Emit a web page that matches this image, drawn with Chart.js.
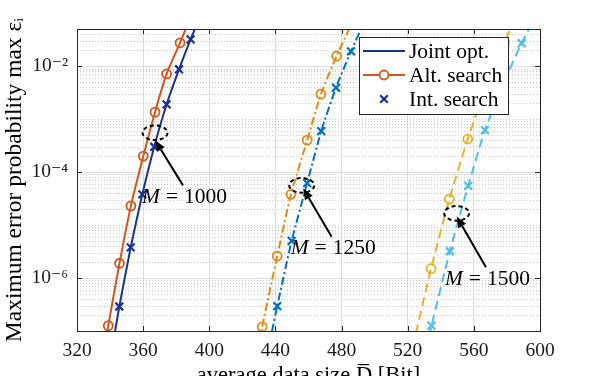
<!DOCTYPE html>
<html>
<head>
<meta charset="utf-8">
<script src="https://cdn.jsdelivr.net/npm/chart.js@4"></script>
<style>
  html, body { margin: 0; padding: 0; background: #fff; overflow: hidden; }
  #wrap { width: 598px; height: 392px; }
</style>
</head>
<body>
<div id="wrap"><canvas id="chart"></canvas></div>
<script>
// ---- data ----
const xTicks = [320, 360, 400, 440, 480, 520, 560, 600];
const yTicks = [1e-6, 1e-4, 1e-2];

// M = 1000
const m1000AltX = [332, 338.9, 345.7, 352.6, 360.1, 367.2, 374.2, 382.3, 389];
const m1000AltY = [7.1e-9, 1.26e-7, 1.9e-6, 2.3e-5, 2.0e-4, 1.35e-3, 7.1e-3, 2.75e-2, 8.9e-2];
const m1000JointX = [339, 345.6, 352.5, 359.5, 366.7, 374.2, 381.7, 388.7, 395.5];
const m1000JointY = [1.8e-8, 2.9e-7, 3.8e-6, 3.8e-5, 3.0e-4, 1.9e-3, 8.7e-3, 3.2e-2, 1.0e-1];
const m1000IntX = [345.6, 352.5, 359.5, 366.7, 374.2, 381.7, 388.7];
const m1000IntY = [2.9e-7, 3.8e-6, 3.8e-5, 3.0e-4, 1.9e-3, 8.7e-3, 3.2e-2];

// M = 1250
const m1250AltX = [423, 432.0, 441.1, 449.4, 459.2, 467.5, 477.0, 486.0];
const m1250AltY = [4.0e-9, 1.2e-7, 2.6e-6, 3.8e-5, 4.0e-4, 2.95e-3, 1.55e-2, 6.2e-2];
const m1250JointX = [432, 441.1, 449.8, 459.2, 467.7, 476.6, 485.7, 494.7];
const m1250JointY = [1.26e-8, 2.95e-7, 5.0e-6, 6.2e-5, 5.9e-4, 3.9e-3, 1.9e-2, 7.9e-2];
const m1250IntX = [441.1, 449.8, 459.2, 467.7, 476.6, 485.7];
const m1250IntY = [2.95e-7, 5.0e-6, 6.2e-5, 5.9e-4, 3.9e-3, 1.9e-2];

// M = 1500
const m1500AltX = [523, 534.1, 545.2, 556.3, 567.4, 578.5, 589.6];
const m1500AltY = [5.0e-8, 1.5e-6, 3.1e-5, 4.2e-4, 4.0e-3, 2.8e-2, 1.6e-1];
const m1500JointX = [523.3, 534.4, 545.5, 556.6, 566.7, 577.8, 588.9, 600];
const m1500JointY = [4.0e-9, 1.26e-7, 3.2e-6, 5.5e-5, 6.2e-4, 4.7e-3, 2.7e-2, 1.26e-1];
const m1500IntX = [534.4, 545.5, 556.6, 566.7, 577.8, 588.9];
const m1500IntY = [1.26e-7, 3.2e-6, 5.5e-5, 6.2e-4, 4.7e-3, 2.7e-2];

// annotations (data coordinates)
const noteLabels = ['1000', '1250', '1500'];
const noteEllipse = [[367.2, 5.5e-4], [455.9, 5.6e-5], [549.6, 1.66e-5]];
const noteTail = [[384.1, 5.6e-5], [474.0, 6.0e-6], [567.3, 1.6e-6]];
const noteHead = [[367.2, 4.0e-4], [456.8, 4.9e-5], [549.6, 1.45e-5]];

const FONT = '"Liberation Serif", "DejaVu Serif", serif';
const AXIS = '#262626';

const c1000 = { joint: '#1c3293', alt: '#d95319' };
const c1250 = { joint: '#0072bd', alt: '#e8890c' };
const c1500 = { joint: '#4dbeee', alt: '#edb120' };

const DASHDOT = [8, 3, 2, 3];
const DASHED = [9, 5];

function pts(xs, ys) {
  return xs.map((x, i) => ({ x: x, y: ys[i] }));
}

function jointSet(xs, ys, color, dash) {
  return {
    label: 'Joint opt.', data: pts(xs, ys),
    borderColor: color, borderWidth: 2, borderDash: dash,
    pointRadius: 0, tension: 0.2, fill: false
  };
}
function altSet(xs, ys, color, dash) {
  return {
    label: 'Alt. search', data: pts(xs, ys),
    borderColor: color, borderWidth: 2, borderDash: dash,
    pointStyle: 'circle', pointRadius: 4.5, pointBorderWidth: 1.8,
    pointBorderColor: color, pointBackgroundColor: 'rgba(0,0,0,0)',
    tension: 0.2, fill: false
  };
}
function intSet(xs, ys, color) {
  return {
    label: 'Int. search', data: pts(xs, ys),
    showLine: false, borderColor: color,
    pointStyle: 'crossRot', pointRadius: 5.5, pointBorderWidth: 2.2,
    pointBorderColor: color, pointBackgroundColor: color
  };
}

const datasets = [
  jointSet(m1000JointX, m1000JointY, c1000.joint, []),
  altSet(m1000AltX, m1000AltY, c1000.alt, []),
  intSet(m1000IntX, m1000IntY, c1000.joint),
  jointSet(m1250JointX, m1250JointY, c1250.joint, DASHDOT),
  altSet(m1250AltX, m1250AltY, c1250.alt, DASHDOT),
  intSet(m1250IntX, m1250IntY, c1250.joint),
  jointSet(m1500JointX, m1500JointY, c1500.joint, DASHED),
  altSet(m1500AltX, m1500AltY, c1500.alt, DASHED),
  intSet(m1500IntX, m1500IntY, c1500.joint)
];

const SUP = { '-': '\u207B', '0': '\u2070', '1': '\u00B9', '2': '\u00B2', '3': '\u00B3', '4': '\u2074',
  '5': '\u2075', '6': '\u2076', '7': '\u2077', '8': '\u2078', '9': '\u2079' };
function powLabel(v) {
  const e = Math.round(Math.log10(v));
  return '10' + String(e).split('').map(ch => SUP[ch]).join('');
}

// dotted minor grid on the log axis
const minorGrid = {
  id: 'minorGrid',
  beforeDatasetsDraw(chart) {
    const { ctx, chartArea: a, scales: { y } } = chart;
    ctx.save();
    ctx.strokeStyle = '#c9c9c9';
    ctx.lineWidth = 1;
    ctx.setLineDash([1, 2]);
    for (let k = -8; k <= -1; k++) {
      for (let m = 1; m <= 9; m++) {
        if (m === 1 && yTicks.some(t => Math.abs(Math.log10(t) - k) < 1e-9)) continue;
        const v = m * Math.pow(10, k);
        if (v < y.min || v > y.max) continue;
        const py = Math.round(y.getPixelForValue(v)) + 0.5;
        ctx.beginPath();
        ctx.moveTo(a.left, py);
        ctx.lineTo(a.right, py);
        ctx.stroke();
      }
    }
    ctx.restore();
  }
};

function arrowTo(ctx, x0, y0, x1, y1) {
  const ang = Math.atan2(y1 - y0, x1 - x0);
  const len = 11, half = 4.5;
  const bx = x1 - len * Math.cos(ang), by = y1 - len * Math.sin(ang);
  ctx.beginPath();
  ctx.moveTo(x0, y0);
  ctx.lineTo(bx, by);
  ctx.stroke();
  ctx.beginPath();
  ctx.moveTo(x1, y1);
  ctx.lineTo(bx + half * Math.sin(ang), by - half * Math.cos(ang));
  ctx.lineTo(bx - half * Math.sin(ang), by + half * Math.cos(ang));
  ctx.closePath();
  ctx.fill();
}

// ellipses, arrows and M labels
const notes = {
  id: 'notes',
  afterDatasetsDraw(chart) {
    const { ctx, scales: { x, y } } = chart;
    ctx.save();
    ctx.strokeStyle = '#000';
    ctx.fillStyle = '#000';
    noteLabels.forEach((lab, i) => {
      const ex = x.getPixelForValue(noteEllipse[i][0]);
      const ey = y.getPixelForValue(noteEllipse[i][1]);
      ctx.lineWidth = 2;
      ctx.setLineDash([4, 3]);
      ctx.beginPath();
      ctx.ellipse(ex, ey, 12.5, 7.3, 0, 0, Math.PI * 2);
      ctx.stroke();
      ctx.setLineDash([]);

      const tx = x.getPixelForValue(noteTail[i][0]);
      const ty = y.getPixelForValue(noteTail[i][1]);
      const hx = x.getPixelForValue(noteHead[i][0]);
      const hy = y.getPixelForValue(noteHead[i][1]);
      ctx.lineWidth = 2;
      arrowTo(ctx, tx, ty, hx, hy);

      // label: M = value
      const lx = tx - 41, ly = ty + 12;
      ctx.textBaseline = 'middle';
      ctx.textAlign = 'left';
      ctx.font = 'italic 21.5px ' + FONT;
      ctx.fillText('M', lx, ly);
      let cx = lx + ctx.measureText('M').width + 6;
      ctx.font = '21.5px ' + FONT;
      ctx.fillText('=', cx, ly);
      cx += ctx.measureText('=').width + 6;
      ctx.fillText(lab, cx, ly);
    });
    ctx.restore();
  }
};

// legend box in the upper right of the axes
const legendBox = {
  id: 'legendBox',
  afterDatasetsDraw(chart) {
    const { ctx, chartArea: a } = chart;
    const bx = a.right - 181, by = a.top + 8, bw = 149, bh = 77;
    ctx.save();
    ctx.fillStyle = '#fff';
    ctx.fillRect(bx, by, bw, bh);
    ctx.strokeStyle = AXIS;
    ctx.lineWidth = 1;
    ctx.strokeRect(bx + 0.5, by + 0.5, bw, bh);
    const rows = [
      { text: 'Joint opt.', color: c1000.joint, line: true, mark: null },
      { text: 'Alt. search', color: c1000.alt, line: true, mark: 'circle' },
      { text: 'Int. search', color: c1000.joint, line: false, mark: 'cross' }
    ];
    rows.forEach((r, i) => {
      const ry = by + 14 + i * 24;
      const x0 = bx + 4, x1 = bx + 46, xm = (x0 + x1) / 2;
      ctx.strokeStyle = r.color;
      ctx.lineWidth = 2;
      if (r.line) {
        ctx.beginPath();
        ctx.moveTo(x0, ry);
        ctx.lineTo(x1, ry);
        ctx.stroke();
      }
      if (r.mark === 'circle') {
        ctx.fillStyle = '#fff';
        ctx.lineWidth = 1.8;
        ctx.beginPath();
        ctx.arc(xm, ry, 4.5, 0, Math.PI * 2);
        ctx.fill();
        ctx.stroke();
      } else if (r.mark === 'cross') {
        ctx.lineWidth = 2.2;
        const d = 3.8;
        ctx.beginPath();
        ctx.moveTo(xm - d, ry - d); ctx.lineTo(xm + d, ry + d);
        ctx.moveTo(xm - d, ry + d); ctx.lineTo(xm + d, ry - d);
        ctx.stroke();
      }
      ctx.fillStyle = '#000';
      ctx.font = '21.5px ' + FONT;
      ctx.textBaseline = 'middle';
      ctx.textAlign = 'left';
      ctx.fillText(r.text, x1 + 4, ry + 1);
    });
    ctx.restore();
  }
};

// axes box with inward ticks
const axesBox = {
  id: 'axesBox',
  afterDraw(chart) {
    const { ctx, chartArea: a, scales: { x, y } } = chart;
    ctx.save();
    ctx.strokeStyle = AXIS;
    ctx.lineWidth = 1;
    ctx.strokeRect(Math.round(a.left) + 0.5, Math.round(a.top) + 0.5,
      Math.round(a.right - a.left), Math.round(a.bottom - a.top));
    ctx.beginPath();
    xTicks.forEach(t => {
      const px = Math.round(x.getPixelForValue(t)) + 0.5;
      ctx.moveTo(px, a.bottom); ctx.lineTo(px, a.bottom - 5);
      ctx.moveTo(px, a.top); ctx.lineTo(px, a.top + 5);
    });
    yTicks.forEach(t => {
      const py = Math.round(y.getPixelForValue(t)) + 0.5;
      ctx.moveTo(a.left, py); ctx.lineTo(a.left + 5, py);
      ctx.moveTo(a.right, py); ctx.lineTo(a.right - 5, py);
    });
    ctx.stroke();
    ctx.restore();
  }
};

new Chart(document.getElementById('chart'), {
  type: 'line',
  data: { datasets: datasets },
  options: {
    responsive: true,
    maintainAspectRatio: false,
    animation: false,
    layout: { padding: { left: 0, top: 29, right: 58, bottom: 0 } },
    plugins: {
      legend: { display: false },
      tooltip: { enabled: false }
    },
    scales: {
      x: {
        type: 'linear',
        min: 320, max: 600,
        afterFit: s => { s.height = 61; },
        afterBuildTicks: s => { s.ticks = xTicks.map(v => ({ value: v })); },
        grid: { color: '#dedede', lineWidth: 1, drawTicks: false },
        border: { display: false },
        ticks: {
          padding: 8, color: '#1a1a1a', maxRotation: 0,
          font: { family: FONT, size: 19.5 }
        },
        title: {
          display: true,
          text: 'average data size D\u0305 [Bit]',
          color: '#000',
          font: { family: FONT, size: 22.5 },
          padding: { top: 0, bottom: 2 }
        }
      },
      y: {
        type: 'logarithmic',
        min: 1e-7, max: 0.0501,
        afterFit: s => { s.width = 77; },
        afterBuildTicks: s => { s.ticks = yTicks.map(v => ({ value: v })); },
        grid: { color: '#dedede', lineWidth: 1, drawTicks: false },
        border: { display: false },
        ticks: {
          padding: 9, color: '#1a1a1a', autoSkip: false,
          font: { family: FONT, size: 19.5 },
          callback: v => powLabel(v)
        },
        title: {
          display: true,
          text: 'Maximum error probability max \u03B5\u1D62',
          color: '#000',
          font: { family: FONT, size: 23.5 },
          padding: { top: 1, bottom: 0 }
        }
      }
    }
  },
  plugins: [minorGrid, notes, legendBox, axesBox]
});
</script>
</body>
</html>
